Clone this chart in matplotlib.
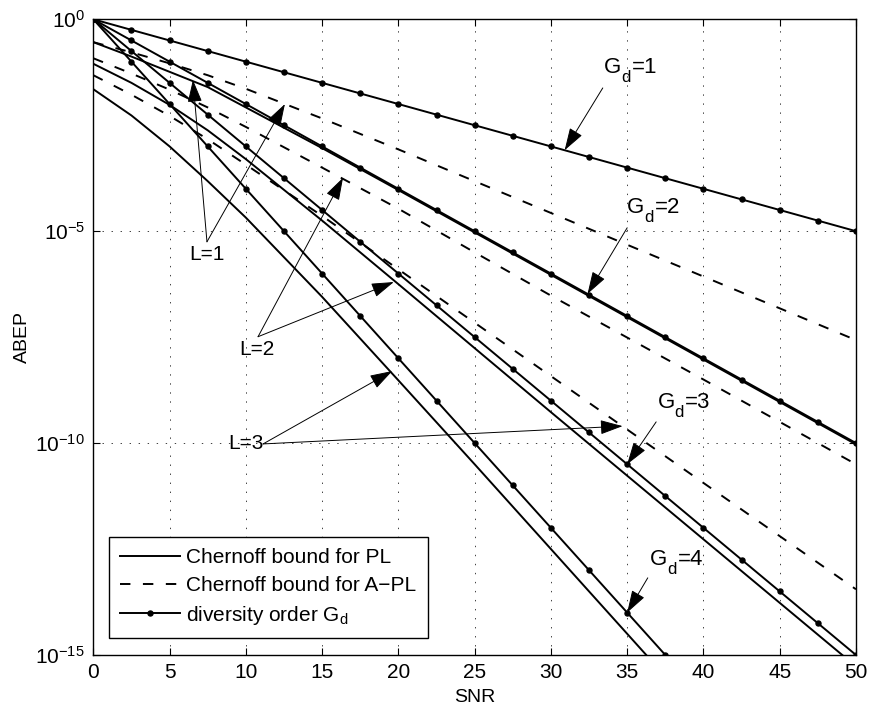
import numpy as np
import matplotlib.pyplot as plt

plt.rcParams['font.family'] = ['Liberation Sans', 'DejaVu Sans']
plt.rcParams['mathtext.fontset'] = 'custom'
plt.rcParams['mathtext.rm'] = 'Liberation Sans'
plt.rcParams['mathtext.it'] = 'Liberation Sans'
plt.rcParams['lines.scale_dashes'] = False

# SNR (dB) at the dots of the diversity-order reference lines
snr_dots = [0, 2.5, 5, 7.5, 10, 12.5, 15, 17.5, 20, 22.5, 25, 27.5, 30,
            32.5, 35, 37.5, 40, 42.5, 45, 47.5, 50]
# log10(ABEP) of the diversity-order lines
gd1 = [0, -0.25, -0.5, -0.75, -1, -1.25, -1.5, -1.75, -2, -2.25, -2.5,
       -2.75, -3, -3.25, -3.5, -3.75, -4, -4.25, -4.5, -4.75, -5]
gd2 = [0, -0.5, -1, -1.5, -2, -2.5, -3, -3.5, -4, -4.5, -5, -5.5, -6,
       -6.5, -7, -7.5, -8, -8.5, -9, -9.5, -10]
gd3 = [0, -0.75, -1.5, -2.25, -3, -3.75, -4.5, -5.25, -6, -6.75, -7.5,
       -8.25, -9, -9.75, -10.5, -11.25, -12, -12.75, -13.5, -14.25, -15]
gd4 = [0, -1, -2, -3, -4, -5, -6, -7, -8, -9, -10, -11, -12, -13, -14, -15]

# SNR (dB) for the Chernoff bound curves
snr = [0, 2.5, 5, 7.5, 10, 15, 20, 25, 30, 40, 50]
# log10(ABEP), Chernoff bound for PL, L = 1, 2, 3
pl_L1 = [-0.54, -0.88, -1.24, -1.6, -2.08, -3.04, -4.03, -5.03, -6.03, -8.03, -10.03]
pl_L2 = [-1.05, -1.5, -2.02, -2.62, -3.3, -4.75, -6.25, -7.76, -9.27, -12.27, -15.27]
pl_L3 = [-1.65, -2.27, -3.0, -3.82, -4.68, -6.55, -8.52, -10.5, -12.5, -16.5, -20.5]
# log10(ABEP), Chernoff bound for A-PL, L = 1, 2, 3
apl_L1 = [-0.54, -0.78, -1.04, -1.32, -1.64, -2.34, -3.07, -3.82, -4.57, -6.07, -7.57]
apl_L2 = [-0.92, -1.28, -1.66, -2.08, -2.54, -3.5, -4.47, -5.5, -6.52, -8.5, -10.5]
apl_L3 = [-1.32, -1.78, -2.28, -2.83, -3.43, -4.64, -5.9, -7.16, -8.42, -10.94, -13.45]

fig = plt.figure(figsize=(8.69, 7.09), dpi=100)
ax = fig.add_axes([0.1074, 0.0762, 0.8776, 0.8966])

lw = 1.4
for v in [pl_L1, pl_L2, pl_L3]:
    ax.plot(snr, 10.0 ** np.array(v), color='black', lw=lw)
for v in [apl_L1, apl_L2, apl_L3]:
    ax.plot(snr, 10.0 ** np.array(v), color='black', lw=lw, dashes=(7.5, 9))
for v in [gd1, gd2, gd3, gd4]:
    ax.plot(snr_dots[:len(v)], 10.0 ** np.array(v), color='black', lw=lw,
            marker='o', markersize=3.6)

# legend proxies
h1, = ax.plot([], [], color='black', lw=lw)
h2, = ax.plot([], [], color='black', lw=lw, dashes=(7.5, 9))
h3, = ax.plot([], [], color='black', lw=lw, marker='o', markersize=3.6)

ax.set_yscale('log')
ax.set_xlim(0, 50)
ax.set_ylim(1e-15, 1e0)
ax.set_xticks(range(0, 51, 5))
ax.set_yticks([1e-15, 1e-10, 1e-5, 1e0])
ax.set_yticklabels(['$10^{-15}$', '$10^{-10}$', '$10^{-5}$', '$10^{0}$'])
ax.minorticks_off()
ax.tick_params(direction='in', length=5, width=0.8, top=True, right=True,
               labelsize=15, pad=6)
ax.grid(True, color='0.25', lw=0.7, linestyle=(0, (1, 5.5)))
for s in ax.spines.values():
    s.set_linewidth(1.0)

ax.set_xlabel('SNR', fontsize=14, labelpad=5)
ax.set_ylabel('ABEP', fontsize=14, labelpad=3)

leg = ax.legend([h1, h2, h3],
                ['Chernoff bound for PL', 'Chernoff bound for A\u2212PL',
                 'diversity order G$_\\mathrm{d}$'],
                loc='lower left', bbox_to_anchor=(0.0206, 0.0267),
                borderaxespad=0, fontsize=15, handlelength=2.85,
                handletextpad=0.3, labelspacing=0.42, fancybox=False,
                framealpha=1, edgecolor='black', borderpad=0.55)
leg.get_frame().set_linewidth(1.0)

arrow = dict(arrowstyle='-|>,head_length=1.4,head_width=0.45', color='black',
             lw=0.7, shrinkA=0, shrinkB=0, mutation_scale=10)


def arr(start, tip):
    ax.annotate('', xy=(tip[0], 10 ** tip[1]),
                xytext=(start[0], 10 ** start[1]), arrowprops=arrow)


# L labels
ax.text(7.45, 10 ** -5.56, 'L=1', fontsize=15, ha='center', va='center')
arr((7.45, -5.25), (6.53, -1.43))
arr((7.45, -5.25), (12.56, -2.0))
ax.text(10.73, 10 ** -7.8, 'L=2', fontsize=15, ha='center', va='center')
arr((10.8, -7.49), (16.37, -3.74))
arr((10.8, -7.49), (19.7, -6.2))
ax.text(10.0, 10 ** -10.0, 'L=3', fontsize=15, ha='center', va='center')
arr((11.13, -10.02), (19.6, -8.3))
arr((11.13, -10.02), (34.7, -9.6))

# diversity order labels: G, lowered subscript d, then "=n"
gd_text = [(33.5, -1.27), (35.0, -4.57), (37.0, -9.17), (36.5, -12.87)]
gd_start = [(33.4, -1.62), (35.0, -4.92), (36.9, -9.5), (36.35, -13.18)]
gd_tip = [(30.9, -3.09), (32.4, -6.48), (35.0, -10.5), (35.0, -14.0)]
for i in range(4):
    pos = (gd_text[i][0], 10 ** gd_text[i][1])
    ax.annotate('G', xy=pos, fontsize=16, ha='left', va='baseline')
    ax.annotate('d', xy=pos, xytext=(12.2, -6.5), textcoords='offset points',
                fontsize=12, ha='left', va='baseline')
    ax.annotate('=%d' % (i + 1), xy=pos, xytext=(19.8, 0),
                textcoords='offset points', fontsize=16, ha='left',
                va='baseline')
    arr(gd_start[i], gd_tip[i])

fig.savefig('out.png', dpi=100)
